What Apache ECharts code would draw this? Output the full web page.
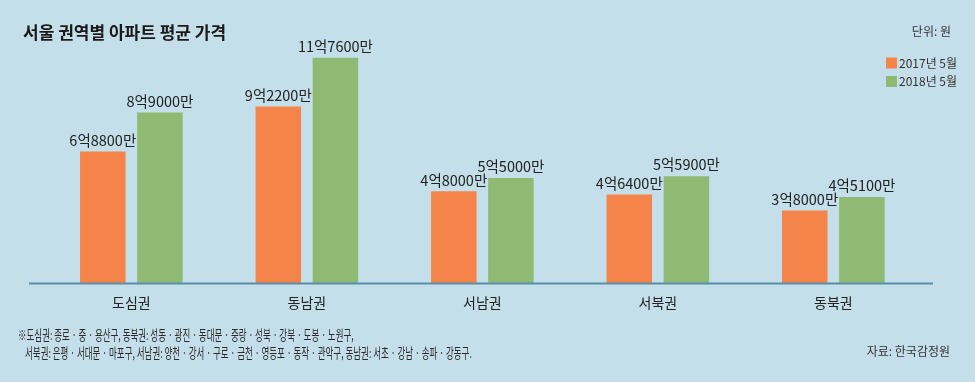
<!DOCTYPE html>
<html><head><meta charset="utf-8">
<script src="https://cdn.jsdelivr.net/npm/echarts@6/dist/echarts.min.js"></script>
<style>html,body{margin:0;padding:0;background:#c4dfea;}#c{width:975px;height:382px;}</style>
</head><body><div id="c"></div>
<script>
const categories = ['도심권', '동남권', '서남권', '서북권', '동북권'];
const seriesNames = ['2017년 5월', '2018년 5월'];
// 단위: 억 원
const values2017 = [6.88, 9.22, 4.80, 4.64, 3.80];
const values2018 = [8.90, 11.76, 5.50, 5.59, 4.51];

const FONT = '"Noto Sans CJK KR", "Noto Sans", sans-serif';
function fmt(v) {
  const man = Math.round(v * 10000);
  const eok = Math.floor(man / 10000);
  return eok + '억' + (man % 10000) + '만';
}
const labelStyle = {
  show: true, position: 'top', distance: 4,
  fontFamily: FONT, fontSize: 14.5, color: '#222',
  formatter: p => fmt(p.value)
};

const chart = echarts.init(document.getElementById('c'));
chart.setOption({
  backgroundColor: '#c4dfea',
  animation: false,
  title: {
    text: '서울 권역별 아파트 평균 가격', left: 18, top: 19,
    textStyle: { fontFamily: FONT, fontSize: 17, fontWeight: 'bold', color: '#1a1a1a' }
  },
  legend: {
    orient: 'vertical', left: 881, top: 52,
    itemWidth: 11, itemHeight: 11, itemGap: 6.5, icon: 'rect',
    textStyle: { fontFamily: FONT, fontSize: 12, color: '#333', padding: [0, 0, 0, -3] },
    data: seriesNames
  },
  grid: { left: 43.6, right: 53.9, top: 14.7, bottom: 98.5 },
  xAxis: {
    type: 'category', data: categories,
    axisLine: { show: false }, axisTick: { show: false },
    axisLabel: { fontFamily: FONT, fontSize: 14, color: '#222', margin: 12 }
  },
  yAxis: { type: 'value', min: 0, max: 14, show: false, splitLine: { show: false } },
  series: [
    { name: seriesNames[0], type: 'bar', data: values2017, barWidth: 45.5, barGap: '25.5%',
      itemStyle: { color: '#f5844a' }, label: labelStyle },
    { name: seriesNames[1], type: 'bar', data: values2018, barWidth: 45.5,
      itemStyle: { color: '#90b974' }, label: labelStyle }
  ],
  graphic: [
    { type: 'line', shape: { x1: 29, y1: 283.5, x2: 933, y2: 283.5 },
      style: { stroke: '#5a8ea8', lineWidth: 2 }, z: 10 },
    { type: 'text', right: 24, top: 25,
      style: { text: '단위: 원', fontFamily: FONT, fontSize: 12, fill: '#333' } },
    { type: 'text', x: 18, y: 335, scaleX: 0.63,
      style: { text: '※도심권: 종로 · 중 · 용산구, 동북권: 성동 · 광진 · 동대문 · 중랑 · 성북 · 강북 · 도봉 · 노원구,', fontFamily: FONT, fontSize: 13.5, fill: '#2a2a2a', verticalAlign: 'middle' } },
    { type: 'text', x: 25, y: 353, scaleX: 0.63,
      style: { text: '서북권: 은평 · 서대문 · 마포구, 서남권: 양천 · 강서 · 구로 · 금천 · 영등포 · 동작 · 관악구, 동남권: 서초 · 강남 · 송파 · 강동구.', fontFamily: FONT, fontSize: 13.5, fill: '#2a2a2a', verticalAlign: 'middle' } },
    { type: 'text', right: 25, top: 345,
      style: { text: '자료: 한국감정원', fontFamily: FONT, fontSize: 12, fill: '#333' } }
  ]
});
</script></body></html>
